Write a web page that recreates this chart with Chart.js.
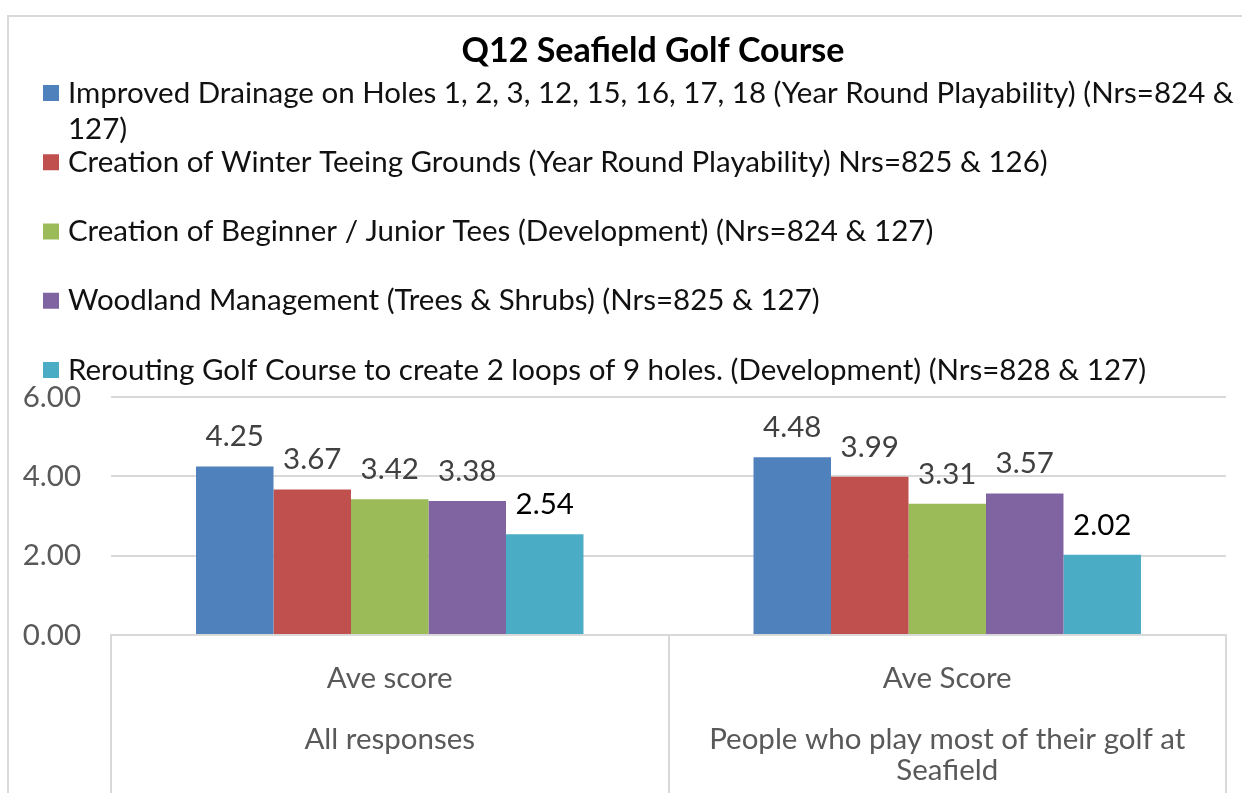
<!DOCTYPE html>
<html lang="en">
<head>
<meta charset="UTF-8">
<title>Q12 Seafield Golf Course</title>
<script src="https://cdn.jsdelivr.net/npm/chart.js"></script>
<style>
  body { margin: 0; background: #fff; overflow: hidden; }
  #wrap { position: relative; width: 1242px; height: 793px; }
</style>
</head>
<body>
<div id="wrap"><canvas id="myChart"></canvas></div>
<script>
// data
const chartTitle = 'Q12 Seafield Golf Course';
const categories = [
  ['Ave score', '', 'All responses'],
  ['Ave Score', '', 'People who play most of their golf at', 'Seafield']
];
const seriesNames = [
  'Improved Drainage on Holes 1, 2, 3, 12, 15, 16, 17, 18 (Year Round Playability) (Nrs=824 &\n127)',
  'Creation of Winter Teeing Grounds (Year Round Playability) Nrs=825 & 126)',
  'Creation of Beginner / Junior Tees (Development) (Nrs=824 & 127)',
  'Woodland Management (Trees & Shrubs) (Nrs=825 & 127)',
  'Rerouting Golf Course to create 2 loops of 9 holes. (Development) (Nrs=828 & 127)'
];
const drainage = [4.25, 4.48];
const winterTees = [3.67, 3.99];
const juniorTees = [3.42, 3.31];
const woodland = [3.38, 3.57];
const rerouting = [2.54, 2.02];
const yTicks = [0, 2, 4, 6];

const colors = ['#4F81BD', '#C0504D', '#9BBB59', '#8064A2', '#4BACC6'];
const labelColors = ['#404040', '#404040', '#404040', '#404040', '#000000'];
const FONT = 'Lato';
const TEXT_SIZE = 29.5;

const seriesValues = [drainage, winterTees, juniorTees, woodland, rerouting];

// frame, title and legend drawn around the plot
const decor = {
  id: 'decor',
  beforeDraw(chart) {
    const ctx = chart.ctx;
    ctx.save();
    ctx.fillStyle = '#fff';
    ctx.fillRect(0, 0, chart.width, chart.height);
    ctx.strokeStyle = '#d9d9d9';
    ctx.lineWidth = 2;
    ctx.beginPath();
    ctx.moveTo(8, chart.height + 5);
    ctx.lineTo(8, 16);
    ctx.lineTo(chart.width + 5, 16);
    ctx.stroke();
    ctx.restore();
  },
  afterDraw(chart) {
    const ctx = chart.ctx;
    ctx.save();
    ctx.fillStyle = '#000';
    ctx.font = 'bold 34px ' + FONT;
    ctx.textAlign = 'center';
    ctx.textBaseline = 'alphabetic';
    ctx.fillText(chartTitle, 653, 62);

    ctx.font = TEXT_SIZE + 'px ' + FONT;
    ctx.textAlign = 'left';
    ctx.textBaseline = 'middle';
    chart.data.datasets.forEach((ds, i) => {
      const cy = 93 + i * 69.25;
      ctx.fillStyle = ds.backgroundColor;
      ctx.fillRect(43, cy - 8, 16, 16);
      ctx.fillStyle = '#111';
      ds.label.split('\n').forEach((line, j) => {
        ctx.fillText(line, 68, cy + j * 36);
      });
    });
    ctx.restore();
  }
};

// value labels above each bar
const barValues = {
  id: 'barValues',
  afterDatasetsDraw(chart) {
    const ctx = chart.ctx;
    ctx.save();
    ctx.font = TEXT_SIZE + 'px ' + FONT;
    ctx.textAlign = 'center';
    ctx.textBaseline = 'alphabetic';
    chart.data.datasets.forEach((ds, i) => {
      chart.getDatasetMeta(i).data.forEach((bar, j) => {
        ctx.fillStyle = labelColors[i];
        ctx.fillText(ds.data[j].toFixed(2), bar.x, bar.y - 20);
      });
    });
    ctx.restore();
  }
};

const ctx = document.getElementById('myChart').getContext('2d');
new Chart(ctx, {
  type: 'bar',
  data: {
    labels: categories,
    datasets: seriesValues.map((vals, i) => ({
      label: seriesNames[i],
      data: vals,
      backgroundColor: colors[i],
      borderWidth: 0,
      barPercentage: 1,
      categoryPercentage: 0.695
    }))
  },
  options: {
    responsive: true,
    maintainAspectRatio: false,
    animation: false,
    layout: { padding: { top: 397, right: 16, left: 0, bottom: 0 } },
    plugins: {
      legend: { display: false },
      tooltip: { enabled: false },
      title: { display: false }
    },
    scales: {
      x: {
        offset: true,
        grid: {
          offset: true,
          drawOnChartArea: false,
          drawTicks: true,
          tickLength: 170,
          color: '#d9d9d9',
          lineWidth: 2
        },
        border: { display: true, color: '#d9d9d9', width: 2 },
        ticks: {
          padding: -142.5,
          color: '#595959',
          font: { family: FONT, size: TEXT_SIZE, lineHeight: 1.05 },
          maxRotation: 0,
          autoSkip: false
        },
        afterFit(scale) { scale.height = 158; }
      },
      y: {
        min: 0,
        max: 6,
        afterBuildTicks(scale) { scale.ticks = yTicks.map(v => ({ value: v })); },
        grid: { color: '#d9d9d9', lineWidth: 2, drawTicks: false },
        border: { display: false },
        ticks: {
          padding: 30,
          color: '#595959',
          font: { family: FONT, size: TEXT_SIZE },
          callback: v => v.toFixed(2)
        },
        afterFit(scale) { scale.width = 111; }
      }
    }
  },
  plugins: [decor, barValues]
});
</script>
</body>
</html>
